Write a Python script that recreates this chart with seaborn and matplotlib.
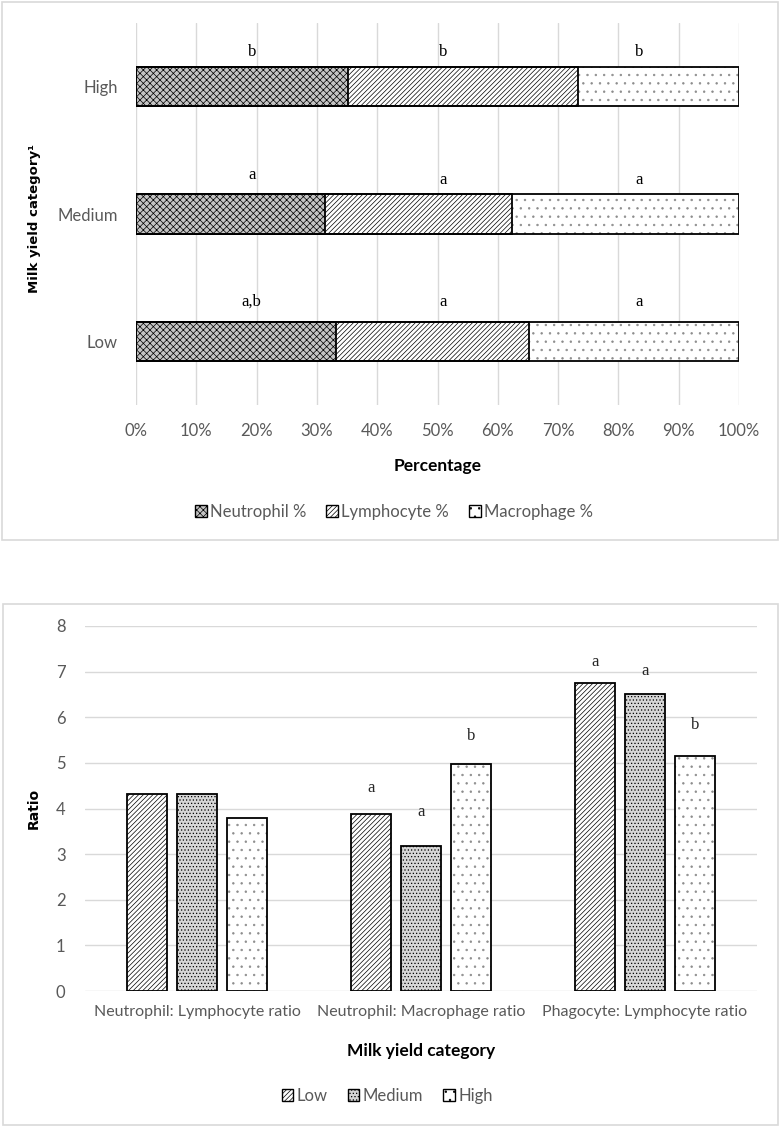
import matplotlib
matplotlib.use("Agg")
import matplotlib.pyplot as plt
import matplotlib.patches as mpatches
import pandas as pd
import seaborn as sns

# grafico superior: composicao celular (%) por categoria de producao
categorias = ["High", "Medium", "Low"]
neutrofilo = [35.2, 31.4, 33.2]
linfocito = [38.1, 31.0, 32.0]
macrofago = [26.7, 37.6, 34.8]
letras_sup = [["b", "b", "b"], ["a", "a", "a"], ["a,b", "a", "a"]]
xs_letras_sup = [19.2, 51.0, 83.5]
dy_letras_sup = [[0.27, 0.27, 0.27], [0.31, 0.27, 0.27], [0.31, 0.31, 0.31]]

# grafico inferior: razoes
razoes = ["Neutrophil: Lymphocyte ratio", "Neutrophil: Macrophage ratio",
          "Phagocyte: Lymphocyte ratio"]
grupos = ["Low", "Medium", "High"]
ratio_low = [4.31, 3.87, 6.75]
ratio_medium = [4.31, 3.17, 6.51]
ratio_high = [3.80, 4.98, 5.16]
letras_inf = {"Low": ["", "a", "a"], "Medium": ["", "a", "a"], "High": ["", "b", "b"]}
y_letras_inf = {"Low": [0, 4.45, 7.21], "Medium": [0, 3.92, 7.02], "High": [0, 5.59, 5.83]}

CINZA_TXT = "#595959"
CINZA_GRADE = "#d9d9d9"
CINZA_PONTO = "#8c8c8c"
FONTE = ["Lato", "DejaVu Sans"]

sns.set_theme(style="white")
plt.rcParams["font.family"] = FONTE
plt.rcParams["hatch.linewidth"] = 0.5

estilos_sup = {
    "Neutrophil %": dict(facecolor="#c4c4c4", hatch="xxxxx"),
    "Lymphocyte %": dict(facecolor="white", hatch="///////"),
    "Macrophage %": dict(facecolor="white", hatch=".."),
}
estilos_inf = {
    "Low": dict(facecolor="white", hatch="///////"),
    "Medium": dict(facecolor="#d6d6d6", hatch="....."),
    "High": dict(facecolor="white", hatch=".."),
}


def pontilhar(ax, barras, lw=1.3):
    """Deixa o pontilhado cinza e redesenha o contorno preto da barra."""
    for barra in barras:
        barra.set_edgecolor(CINZA_PONTO)
        barra.set_linewidth(0)
        ax.add_patch(mpatches.Rectangle(barra.get_xy(), barra.get_width(), barra.get_height(),
                                        fill=False, edgecolor="black", linewidth=lw, zorder=3))


fig = plt.figure(figsize=(7.8, 11.27), dpi=100)
W, H = 780, 1127

# molduras das duas areas de grafico
for (x0, y0, x1, y1) in [(2, 2, 778, 540), (3, 604, 778, 1125)]:
    fig.patches.append(mpatches.Rectangle(
        (x0 / W, 1 - y1 / H), (x1 - x0) / W, (y1 - y0) / H,
        transform=fig.transFigure, facecolor="none", edgecolor=CINZA_GRADE, linewidth=1.2))

# ---------------- grafico superior ----------------
ax1 = fig.add_axes([136 / W, 1 - 405 / H, 603 / W, 382 / H])
df_sup = pd.DataFrame({"Categoria": categorias, "Neutrophil %": neutrofilo,
                       "Lymphocyte %": linfocito, "Macrophage %": macrofago})
df_sup["acum_linf"] = df_sup["Neutrophil %"] + df_sup["Lymphocyte %"]
df_sup["acum_total"] = df_sup["acum_linf"] + df_sup["Macrophage %"]

for coluna, serie in [("acum_total", "Macrophage %"), ("acum_linf", "Lymphocyte %"),
                      ("Neutrophil %", "Neutrophil %")]:
    est = estilos_sup[serie]
    sns.barplot(data=df_sup, y="Categoria", x=coluna, order=categorias, orient="h",
                width=0.31, color=est["facecolor"], saturation=1, errorbar=None,
                edgecolor="black", linewidth=1.3, hatch=est["hatch"], ax=ax1)
    if serie == "Macrophage %":
        pontilhar(ax1, list(ax1.containers[-1]))

ax1.set_xlim(0, 100)
ax1.set_ylim(2.5, -0.5)
ax1.set_xticks(range(0, 101, 10))
ax1.set_xticklabels([f"{v}%" for v in range(0, 101, 10)])
ax1.grid(axis="x", color=CINZA_GRADE, linewidth=1)
ax1.set_axisbelow(True)
for sp in ax1.spines.values():
    sp.set_visible(False)
ax1.tick_params(axis="both", length=0, labelsize=12, colors=CINZA_TXT)
ax1.tick_params(axis="x", pad=13)
ax1.tick_params(axis="y", pad=13)
ax1.set_xlabel("Percentage", fontsize=12.5, fontweight="bold", color="black")
ax1.xaxis.set_label_coords(0.5, -0.139)
ax1.set_ylabel("Milk yield category¹", fontsize=9.5, fontweight="bold", color="black",
               family="DejaVu Sans")
ax1.yaxis.set_label_coords(-0.157, 0.487)

for i, linha in enumerate(letras_sup):
    for j, letra in enumerate(linha):
        ax1.text(xs_letras_sup[j], i - dy_letras_sup[i][j], letra, ha="center", va="center",
                 fontsize=12, family="Liberation Serif", color="black")

handles_sup = [mpatches.Patch(edgecolor="black", linewidth=1, label=k, **v)
               for k, v in estilos_sup.items()]
fig.legend(handles=handles_sup, loc="center", bbox_to_anchor=(394 / W, 1 - 512 / H),
           ncol=3, frameon=False, fontsize=12, labelcolor=CINZA_TXT,
           handlelength=0.7, handleheight=0.7, handletextpad=0.2, columnspacing=1.2)

# ---------------- grafico inferior ----------------
ax2 = fig.add_axes([85 / W, 1 - 991 / H, 672 / W, 365 / H])
df_inf = pd.DataFrame({"Razao": razoes, "Low": ratio_low, "Medium": ratio_medium,
                       "High": ratio_high})
df_inf = df_inf.melt(id_vars="Razao", var_name="Grupo", value_name="Valor")

sns.barplot(data=df_inf, x="Razao", y="Valor", hue="Grupo", order=razoes, hue_order=grupos,
            width=0.67, gap=0.2, errorbar=None, legend=False, saturation=1,
            palette=["white"] * 3, edgecolor="black", linewidth=1.3, ax=ax2)

for grupo, cont in zip(grupos, list(ax2.containers)):
    est = estilos_inf[grupo]
    for k, barra in enumerate(cont):
        barra.set_facecolor(est["facecolor"])
        barra.set_hatch(est["hatch"])
        letra = letras_inf[grupo][k]
        if letra:
            ax2.text(barra.get_x() + barra.get_width() / 2, y_letras_inf[grupo][k], letra,
                     ha="center", va="center", fontsize=12, family="Liberation Serif")
    if grupo == "High":
        pontilhar(ax2, list(cont))

ax2.set_ylim(0, 8)
ax2.set_yticks(range(0, 9))
ax2.grid(axis="y", color=CINZA_GRADE, linewidth=1)
ax2.set_axisbelow(True)
for sp in ax2.spines.values():
    sp.set_visible(False)
ax2.tick_params(axis="both", length=0, labelsize=12, colors=CINZA_TXT)
ax2.tick_params(axis="x", pad=10, labelsize=11.5)
ax2.tick_params(axis="y", pad=14)
ax2.set_xlabel("Milk yield category", fontsize=12.5, fontweight="bold", color="black")
ax2.xaxis.set_label_coords(0.5, -0.142)
ax2.set_ylabel("Ratio", fontsize=10, fontweight="bold", color="black", family="DejaVu Sans")
ax2.yaxis.set_label_coords(-0.0655, 0.5)

handles_inf = [mpatches.Patch(edgecolor="black", linewidth=1, label=k, **v)
               for k, v in estilos_inf.items()]
fig.legend(handles=handles_inf, loc="center", bbox_to_anchor=(387 / W, 1 - 1096 / H),
           ncol=3, frameon=False, fontsize=12, labelcolor=CINZA_TXT,
           handlelength=0.7, handleheight=0.7, handletextpad=0.2, columnspacing=1.2)

fig.savefig("out.png", dpi=100, facecolor="white")
plt.close(fig)
